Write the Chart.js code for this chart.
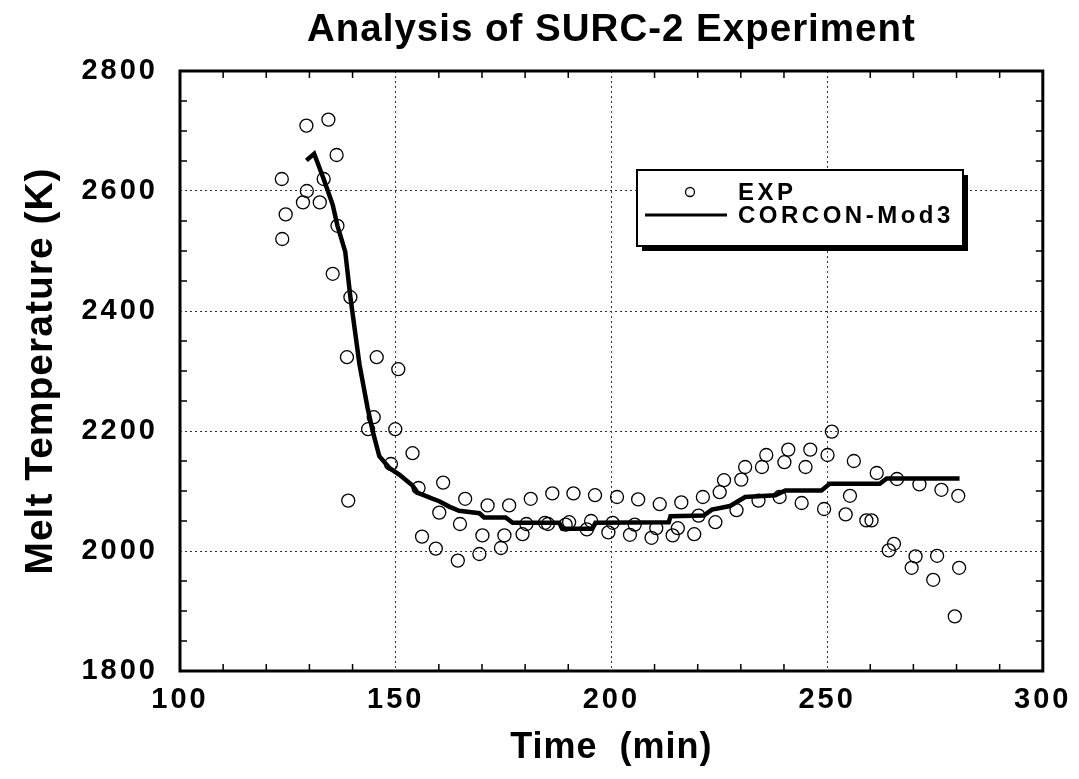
<!DOCTYPE html>
<html>
<head>
<meta charset="utf-8">
<script src="https://cdn.jsdelivr.net/npm/chart.js@4.4.0/dist/chart.umd.min.js"></script>
<style>
  html, body { margin: 0; padding: 0; background: #fff; }
  #wrap { width: 1079px; height: 779px; }
</style>
</head>
<body>
<div id="wrap"><canvas id="chart" width="1079" height="779"></canvas></div>
<script>

/* Data */
const expTime = [
  123.6, 123.7, 124.5, 128.5, 129.3, 129.4, 132.4, 133.3, 134.4, 135.4, 136.3, 136.5,
  138.7, 139.0, 139.5, 143.6, 144.9, 145.6, 148.9, 149.9, 150.6, 153.9, 155.3, 156.1,
  159.3, 160.1, 161.0, 164.4, 164.9, 166.1, 169.4, 170.1, 171.3, 174.4, 175.2, 176.3,
  179.4, 180.3, 181.3, 184.6, 185.3, 186.3, 189.4, 190.2, 191.2, 194.3, 195.3, 196.2,
  199.3, 200.3, 201.3, 204.3, 205.4, 206.2, 209.3, 210.4, 211.2, 214.2, 215.4, 216.2,
  219.2, 220.2, 221.2, 224.1, 225.1, 226.1, 229.0, 230.1, 231.0, 234.1, 234.9, 235.9,
  239.0, 240.1, 241.0, 244.1, 245.0, 246.1, 249.3, 250.1, 251.1, 254.3, 255.3, 256.2,
  259.1, 260.3, 261.5, 264.3, 265.5, 266.2, 269.6, 270.5, 271.4, 274.6, 275.5, 276.5,
  279.6, 280.4, 280.6
];
const expTemp = [
  2620, 2520, 2561, 2581, 2709, 2600, 2581, 2620, 2719, 2462, 2660, 2542,
  2323, 2084, 2423, 2203, 2223, 2323, 2145, 2203, 2303, 2163, 2105, 2024,
  2004, 2064, 2114, 1984, 2045, 2087, 1995, 2026, 2076, 2005, 2026, 2076,
  2028, 2045, 2087, 2047, 2045, 2096, 2044, 2048, 2096, 2036, 2050, 2093,
  2031, 2047, 2090, 2027, 2044, 2086, 2022, 2038, 2078, 2026, 2038, 2081,
  2028, 2059, 2090, 2048, 2098, 2118, 2068, 2119, 2140, 2084, 2140, 2160,
  2090, 2148, 2169, 2080, 2140, 2169, 2070, 2160, 2199, 2061, 2092, 2150,
  2051, 2051, 2130, 2001, 2012, 2120, 1972, 1991, 2111, 1952, 1992, 2102,
  1891, 2092, 1972
];
const modTime = [
  129.3, 131.1, 133.3, 135.4, 136.5, 138.3, 139.5, 141.6, 143.5, 144.7, 146.2, 148.6,
  150.9, 153.9, 155.1, 156.2, 158.2, 160.1, 162.4, 164.7, 169.4, 170.5, 175.5, 177.1,
  187.9, 188.6, 195.6, 196.3, 213.3, 213.7, 221.4, 223.3, 227.5, 231.0, 238.0, 240.3,
  248.7, 250.6, 262.2, 263.8, 280.7
];
const modTemp = [
  2651, 2662, 2620, 2577, 2542, 2499, 2423, 2311, 2238, 2199, 2158, 2138,
  2127, 2109, 2097, 2094, 2088, 2083, 2074, 2067, 2063, 2056, 2056, 2047,
  2047, 2037, 2037, 2047, 2048, 2058, 2059, 2069, 2075, 2090, 2093, 2101,
  2101, 2112, 2112, 2121, 2121
];
const xTicks = [100, 150, 200, 250, 300];
const yTicks = [1800, 2000, 2200, 2400, 2600, 2800];
const xMinor = [110, 120, 130, 140, 160, 170, 180, 190, 210, 220, 230, 240, 260, 270, 280, 290];
const yMinor = [1850, 1900, 1950, 2050, 2100, 2150, 2250, 2300, 2350, 2450, 2500, 2550, 2650, 2700, 2750];

/* Look */
const FONT = '"Liberation Sans", Arial, Helvetica, sans-serif';
Chart.defaults.font.family = FONT;
Chart.defaults.color = '#000';

const tickFont = { size: 29, weight: 'bold' };

// frame, minor ticks, boxed legend, and the wide letter spacing of the original
const decor = {
  id: 'decor',
  beforeDraw(chart) {
    chart.ctx.letterSpacing = '1px';
  },
  afterDatasetsDraw(chart) {
    chart.ctx.letterSpacing = '3px';
  },
  afterDraw(chart) {
    const { ctx, chartArea: a, scales: { x, y } } = chart;
    ctx.save();
    ctx.letterSpacing = '0px';
    ctx.strokeStyle = '#000';
    ctx.lineWidth = 1.5;
    ctx.beginPath();
    xMinor.forEach(v => {
      const px = x.getPixelForValue(v);
      ctx.moveTo(px, a.bottom); ctx.lineTo(px, a.bottom - 7);
      ctx.moveTo(px, a.top); ctx.lineTo(px, a.top + 7);
    });
    yMinor.forEach(v => {
      const py = y.getPixelForValue(v);
      ctx.moveTo(a.left, py); ctx.lineTo(a.left + 7, py);
      ctx.moveTo(a.right, py); ctx.lineTo(a.right - 7, py);
    });
    ctx.stroke();
    ctx.lineWidth = 3;
    ctx.strokeRect(a.left, a.top, a.right - a.left, a.bottom - a.top);

    // legend box with drop shadow
    const lx = 637, ly = 170, lw = 326, lh = 76;
    ctx.fillStyle = '#000';
    ctx.fillRect(lx + 5, ly + 5, lw, lh);
    ctx.fillStyle = '#fff';
    ctx.fillRect(lx, ly, lw, lh);
    ctx.lineWidth = 2;
    ctx.strokeRect(lx, ly, lw, lh);

    const ds = chart.data.datasets;
    ctx.lineWidth = 1.3;
    ctx.beginPath();
    ctx.arc(690, 192, 4.5, 0, Math.PI * 2);
    ctx.stroke();
    ctx.lineWidth = 3;
    ctx.beginPath();
    ctx.moveTo(645, 215); ctx.lineTo(727, 215);
    ctx.stroke();

    ctx.letterSpacing = '3.5px';
    ctx.fillStyle = '#000';
    ctx.font = 'bold 24px ' + FONT;
    ctx.textAlign = 'left';
    ctx.textBaseline = 'middle';
    ctx.fillText(ds[0].label, 738, 193);
    ctx.fillText(ds[1].label, 738, 216);
    ctx.restore();
    ctx.letterSpacing = '0px';
  }
};

new Chart(document.getElementById('chart'), {
  type: 'scatter',
  data: {
    datasets: [
      {
        label: 'EXP',
        data: expTime.map((t, i) => ({ x: t, y: expTemp[i] })),
        pointStyle: 'circle',
        pointRadius: 6.5,
        pointBorderWidth: 1.3,
        borderColor: '#000',
        backgroundColor: 'rgba(0,0,0,0)',
        showLine: false
      },
      {
        label: 'CORCON-Mod3',
        data: modTime.map((t, i) => ({ x: t, y: modTemp[i] })),
        showLine: true,
        borderColor: '#000',
        borderWidth: 4.5,
        pointRadius: 0,
        tension: 0,
        fill: false
      }
    ]
  },
  options: {
    responsive: false,
    animation: false,
    layout: { padding: { top: 0, right: 34, bottom: 0, left: 0 } },
    plugins: {
      legend: { display: false },
      tooltip: { enabled: false },
      title: {
        display: true,
        fullSize: false,
        text: 'Analysis of SURC-2 Experiment',
        color: '#000',
        font: { size: 38.5, weight: 'bold' },
        padding: { top: 7, bottom: 17.8 }
      }
    },
    scales: {
      x: {
        type: 'linear',
        min: 100, max: 300,
        afterBuildTicks: (s) => { s.ticks = xTicks.map(v => ({ value: v })); },
        afterFit: (s) => { s.height = 108; },
        grid: { color: '#333', lineWidth: 1, drawTicks: false },
        border: { display: false, dash: [2, 3] },
        ticks: { font: tickFont, color: '#000', padding: 12, z: 1, maxRotation: 0, autoSkip: false, callback: (v) => String(v) },
        title: {
          display: true, text: 'Time  (min)', color: '#000',
          font: { size: 36, weight: 'bold' }, padding: { top: 0, bottom: 9 }
        }
      },
      y: {
        type: 'linear',
        min: 1800, max: 2800,
        afterBuildTicks: (s) => { s.ticks = yTicks.map(v => ({ value: v })); },
        afterFit: (s) => { s.width = 180; },
        grid: { color: '#333', lineWidth: 1, drawTicks: false },
        border: { display: false, dash: [2, 3] },
        ticks: { font: tickFont, color: '#000', padding: 22, z: 1, autoSkip: false, callback: (v) => String(v) },
        title: {
          display: true, text: 'Melt Temperature (K)', color: '#000',
          font: { size: 39, weight: 'bold' }, padding: { top: 18, bottom: 0 }
        }
      }
    }
  },
  plugins: [decor]
});
</script>
</body>
</html>
